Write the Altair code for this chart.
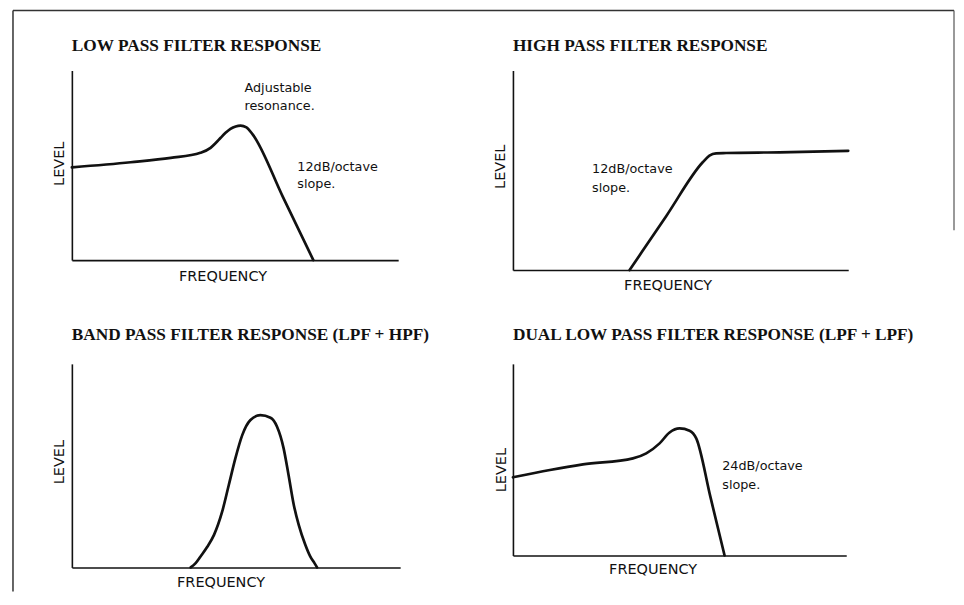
import altair as alt
import pandas as pd

# ---- data (frequency 0-100, level 0-100 within each panel) ----
lpf_freq = [0, 18.0, 30.3, 39.4, 42.5, 44.0, 45.6, 47.1, 48.6, 50.2, 51.7, 53.5, 55.4, 64.7, 74.0]
lpf_level = [48.9, 51.6, 53.9, 56.6, 59.2, 61.6, 64.5, 67.1, 69.2, 70.5, 70.9, 70.0, 66.3, 33.2, 0]

hpf_freq = [34.8, 45.7, 56.6, 58.6, 60.6, 63.6, 79.5, 100]
hpf_level = [0, 27.0, 54.0, 57.35, 58.5, 58.65, 59.0, 59.75]

bpf_freq = [36.2, 37.7, 39.2, 41.2, 43.3, 45.8, 47.8, 49.8, 51.9, 54.4, 57.4, 60.5, 62.5,
            64.5, 66.0, 67.6, 69.1, 71.1, 72.6, 73.9, 74.7]
bpf_level = [0, 2.1, 5.4, 10.0, 16.0, 27.5, 40.5, 53.6, 65.0, 72.4, 74.8, 73.5, 69.1,
             58.5, 45.4, 30.7, 20.9, 11.1, 5.4, 2.1, 0]

dlpf_freq = [0, 11.1, 21.0, 36.0, 40.0, 44.0, 47.0, 50.0, 53.0, 55.0, 59.25, 63.5]
dlpf_level = [40.8, 44.6, 47.5, 50.7, 53.3, 58.5, 64.2, 66.3, 65.1, 61.1, 30.55, 0]

titles = [
    "LOW PASS FILTER RESPONSE",
    "HIGH PASS FILTER RESPONSE",
    "BAND PASS FILTER RESPONSE (LPF + HPF)",
    "DUAL LOW PASS FILTER RESPONSE (LPF + LPF)",
]

lpf_note_text = ["Adjustable", "resonance.", "12dB/octave", "slope."]
lpf_note_freq = [52.9, 52.9, 69.1, 69.1]
lpf_note_level = [88.7, 79.2, 46.8, 38.1]

hpf_note_text = ["12dB/octave", "slope."]
hpf_note_freq = [23.6, 23.6]
hpf_note_level = [48.65, 39.35]

dlpf_note_text = ["24dB/octave", "slope."]
dlpf_note_freq = [62.8, 62.8]
dlpf_note_level = [44.6, 34.7]

INK = "#111111"


def panel(freq, level, title, w, h, toff, fx, fy, lx, ly, notes=None, extra=None):
    df = pd.DataFrame({"freq": freq, "level": level})
    xs = alt.Scale(domain=[0, 100], nice=False, zero=False)
    ys = alt.Scale(domain=[0, 100], nice=False, zero=False)
    ax_common = dict(labels=False, ticks=False, grid=False, domainColor=INK,
                     domainWidth=1.6, titleFont="DejaVu Sans", titleFontSize=14.5,
                     titleFontWeight="normal", titleColor=INK, titleBaseline="alphabetic")
    line = alt.Chart(df).mark_line(interpolate="monotone", color=INK, strokeWidth=2.7,
                                   strokeCap="round", strokeJoin="round").encode(
        x=alt.X("freq:Q", scale=xs,
                axis=alt.Axis(title="FREQUENCY", titleX=fx, titleY=fy, **ax_common)),
        y=alt.Y("level:Q", scale=ys,
                axis=alt.Axis(title="LEVEL", titleX=lx, titleY=ly, **ax_common)),
    )
    layers = [line]
    if notes is not None:
        ndf = pd.DataFrame({"freq": notes[0], "level": notes[1], "label": notes[2]})
        txt = alt.Chart(ndf).mark_text(align="left", baseline="alphabetic",
                                       font="DejaVu Sans", fontSize=12.8, color=INK).encode(
            x=alt.X("freq:Q", scale=xs), y=alt.Y("level:Q", scale=ys), text="label:N")
        layers.append(txt)
    if extra:
        layers.extend(extra)
    return alt.layer(*layers).properties(
        width=w, height=h,
        title=alt.TitleParams(text=title, anchor="start", frame="group",
                              font="Liberation Serif", fontSize=17.3, fontWeight="bold",
                              color=INK, offset=toff, baseline="alphabetic"),
    )


# page frame (decoration of the scanned sheet)
fdf = pd.DataFrame({"k": [0]})
frame_top = alt.Chart(fdf).mark_rule(color="#333333", strokeWidth=1.5).encode(
    x=alt.value(-59), x2=alt.value(884), y=alt.value(-60))
frame_left = alt.Chart(fdf).mark_rule(color="#333333", strokeWidth=1.5).encode(
    x=alt.value(-59), y=alt.value(-60), y2=alt.value(522))
frame_right = alt.Chart(fdf).mark_rule(color="#555555", strokeWidth=1.2).encode(
    x=alt.value(884), y=alt.value(-60), y2=alt.value(160))

p1 = panel(lpf_freq, lpf_level, titles[0], 327, 190, -59, 151, 20, -8, 93,
           notes=(lpf_note_freq, lpf_note_level, lpf_note_text),
           extra=[frame_top, frame_left, frame_right])
p2 = panel(hpf_freq, hpf_level, titles[1], 336, 200, 2, 155, 19, -8, 96,
           notes=(hpf_note_freq, hpf_note_level, hpf_note_text))
p3 = panel(bpf_freq, bpf_level, titles[2], 329, 204, 6.5, 149, 19, -8, 98)
p4 = panel(dlpf_freq, dlpf_level, titles[3], 334, 192, 7, 140, 18, -7, 106,
           notes=(dlpf_note_freq, dlpf_note_level, dlpf_note_text))

chart = alt.concat(
    p1, p2, p3, p4, columns=2, bounds="flush", align="all",
    spacing={"row": 90, "column": 106},
).properties(
    padding={"left": 3, "top": 0, "right": 0, "bottom": 0},
    background="white",
).configure_view(stroke="transparent")

chart.save("out.html", embed_options={"renderer": "svg", "actions": False})
